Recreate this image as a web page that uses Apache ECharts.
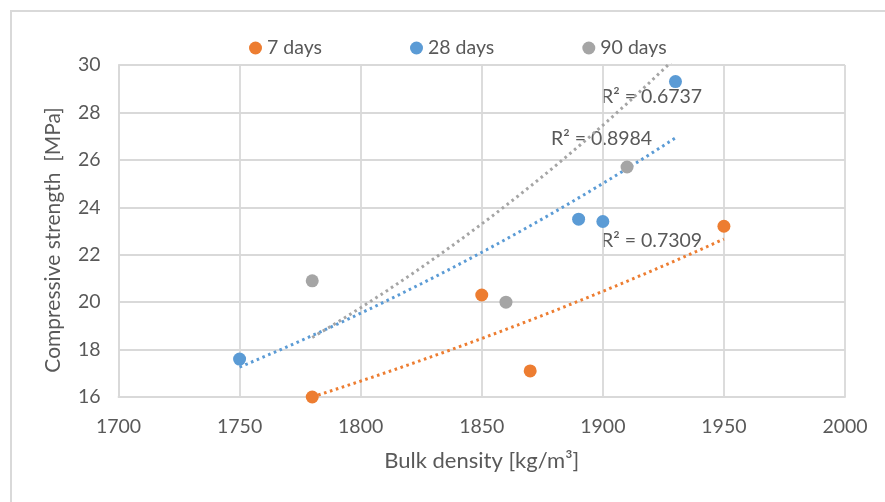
<!DOCTYPE html>
<html>
<head>
<meta charset="utf-8">
<script src="https://cdn.jsdelivr.net/npm/echarts@6/dist/echarts.min.js"></script>
<style>
html,body{margin:0;padding:0;background:#fff;}
#chart{width:885px;height:502px;}
</style>
</head>
<body>
<div id="chart"></div>
<script>
// ---- data ----
const seriesNames = ['7 days', '28 days', '90 days'];
const density7  = [1780, 1850, 1870, 1950];
const strength7 = [16.0, 20.3, 17.1, 23.2];
const density28  = [1750, 1890, 1900, 1930];
const strength28 = [17.6, 23.5, 23.4, 29.3];
// last 90-day point lies above the plotted range (hidden, clipped)
const density90  = [1780, 1860, 1910, 1950];
const strength90 = [20.9, 20.0, 25.7, 38.1];
const r2Labels = ['R\u00b2 = 0.7309', 'R\u00b2 = 0.8984', 'R\u00b2 = 0.6737'];
const xTicks = [1700, 1750, 1800, 1850, 1900, 1950, 2000];
const yTicks = [16, 18, 20, 22, 24, 26, 28, 30];

const colors = ['#ED7D31', '#5B9BD5', '#A5A5A5'];
const FONT = 'Lato';
const TXT = '#595959';

function pairs(xs, ys) { return xs.map((x, i) => [x, ys[i]]); }
// Excel-style exponential trendline: least squares on ln(y)
function expTrend(xs, ys) {
  const n = xs.length;
  const ly = ys.map(Math.log);
  const mx = xs.reduce((a, b) => a + b, 0) / n;
  const my = ly.reduce((a, b) => a + b, 0) / n;
  let sxy = 0, sxx = 0;
  xs.forEach((x, i) => { sxy += (x - mx) * (ly[i] - my); sxx += (x - mx) * (x - mx); });
  const b = sxy / sxx, a = my - b * mx;
  const x0 = Math.min(...xs), x1 = Math.max(...xs);
  const out = [];
  for (let k = 0; k <= 60; k++) {
    const x = x0 + (x1 - x0) * k / 60;
    out.push([x, Math.exp(a + b * x)]);
  }
  return out;
}

const dens = [density7, density28, density90];
const str = [strength7, strength28, strength90];

const series = [];
for (let i = 0; i < 3; i++) {
  series.push({
    name: seriesNames[i] + ' trend',
    type: 'line',
    data: expTrend(dens[i], str[i]),
    showSymbol: false,
    symbol: 'none',
    clip: true,
    z: 2,
    silent: true,
    lineStyle: { color: colors[i], width: 3, type: [2.6, 3.6], cap: 'butt' }
  });
}
for (let i = 0; i < 3; i++) {
  series.push({
    name: seriesNames[i],
    type: 'scatter',
    data: pairs(dens[i], str[i]),
    symbol: 'circle',
    symbolSize: 13,
    clip: true,
    z: 3,
    itemStyle: { color: colors[i], opacity: 1 }
  });
}

const chart = echarts.init(document.getElementById('chart'), null, { renderer: 'canvas' });
chart.setOption({
  backgroundColor: '#fff',
  animation: false,
  textStyle: { fontFamily: FONT },
  legend: {
    data: seriesNames,
    left: 244,
    top: 33,
    icon: 'circle',
    itemWidth: 13,
    itemHeight: 13,
    itemGap: 88,
    textStyle: { color: TXT, fontSize: 19.5, fontFamily: FONT }
  },
  grid: { left: 118.5, top: 65, width: 726.5, height: 332, containLabel: false },
  xAxis: {
    type: 'value',
    min: xTicks[0], max: xTicks[xTicks.length - 1], interval: 50,
    name: 'Bulk density [kg/m\u00b3]',
    nameLocation: 'middle',
    nameGap: 53,
    nameTextStyle: { color: TXT, fontSize: 22, fontFamily: FONT },
    axisLine: { show: true, lineStyle: { color: '#D9D9D9', width: 1.8 } },
    axisTick: { show: false },
    axisLabel: { color: TXT, fontSize: 19.5, margin: 20, fontFamily: FONT,
                 formatter: v => String(v) },
    splitLine: { show: true, lineStyle: { color: '#D9D9D9', width: 1.8 } }
  },
  yAxis: {
    type: 'value',
    min: yTicks[0], max: yTicks[yTicks.length - 1], interval: 2,
    axisLine: { show: true, lineStyle: { color: '#D9D9D9', width: 1.8 } },
    axisTick: { show: false },
    axisLabel: { color: TXT, fontSize: 19.5, margin: 18, fontFamily: FONT,
                 formatter: v => String(v) },
    splitLine: { show: true, lineStyle: { color: '#D9D9D9', width: 1.8 } }
  },
  graphic: [
    { type: 'rect', z: -10, silent: true,
      shape: { x: 11, y: 11, width: 900, height: 600 },
      style: { fill: 'none', stroke: '#D9D9D9', lineWidth: 2 } },
    { type: 'text', silent: true, x: 53, y: 240, rotation: Math.PI / 2,
      style: { text: 'Compressive strength  [MPa]', fill: TXT, font: '21px ' + FONT,
               textAlign: 'center', textVerticalAlign: 'middle' } },
    { type: 'text', silent: true, x: 601, y: 240.5,
      style: { text: r2Labels[0], fill: TXT, font: '19.5px ' + FONT, textAlign: 'left', textVerticalAlign: 'middle' } },
    { type: 'text', silent: true, x: 551, y: 139,
      style: { text: r2Labels[1], fill: TXT, font: '19.5px ' + FONT, textAlign: 'left', textVerticalAlign: 'middle' } },
    { type: 'text', silent: true, x: 601, y: 97,
      style: { text: r2Labels[2], fill: TXT, font: '19.5px ' + FONT, textAlign: 'left', textVerticalAlign: 'middle' } }
  ],
  series: series
});
</script>
</body>
</html>
